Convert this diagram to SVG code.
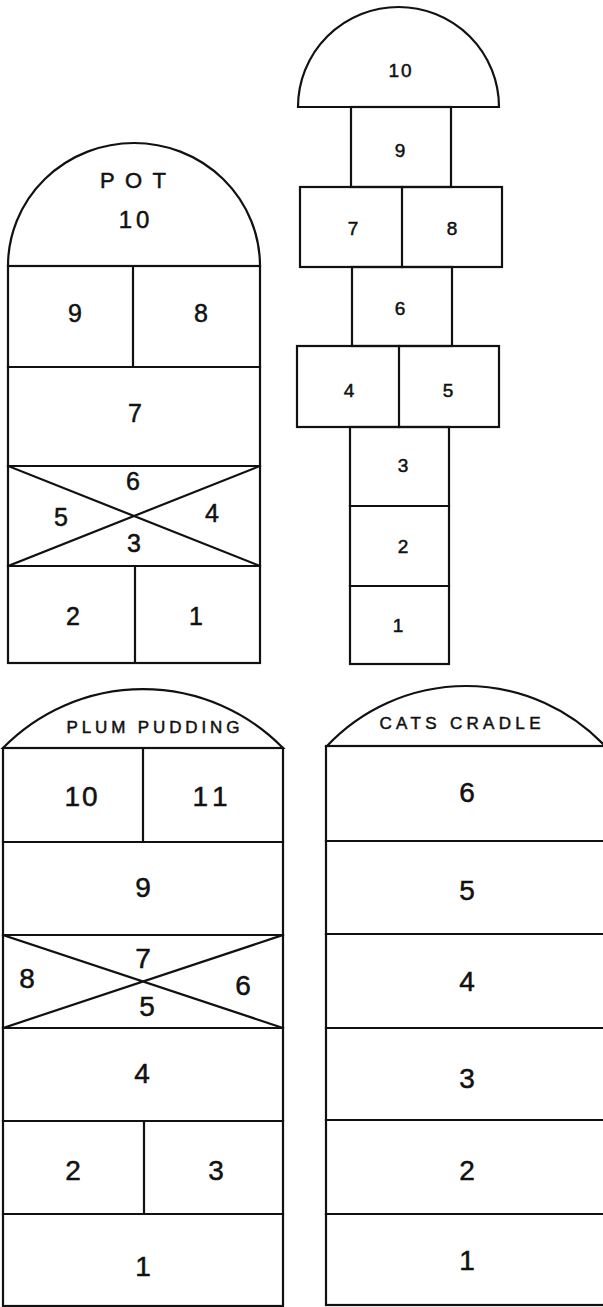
<svg xmlns="http://www.w3.org/2000/svg" width="603" height="1307" viewBox="0 0 603 1307">
<style>
.ln{fill:none;stroke:#111;stroke-width:2.2;stroke-linecap:square;stroke-linejoin:miter}
text{font-family:"Liberation Sans",Arial,sans-serif;fill:#111;stroke:#111;stroke-width:0.5;text-anchor:middle}
.p{font-size:25px}
.s{font-size:19px}
.b{font-size:28px}
.t{font-size:17px}
</style>
<rect x="0" y="0" width="603" height="1307" fill="#fff"/>
<g id="pot">
<path class="ln" d="M8 266 A126 123 0 0 1 260 266 Z"/>
<rect class="ln" x="8" y="266" width="252" height="397"/>
<path class="ln" d="M8 367 H260 M8 466 H260 M8 566 H260 M133 266 V367 M135 566 V663 M8 466 L260 566 M8 566 L260 466"/>
<text x="133" y="188" font-size="22" textLength="66" lengthAdjust="spacing">POT</text>
<text x="136" y="228" font-size="24" letter-spacing="4">10</text>
<text class="p" x="75" y="322">9</text>
<text class="p" x="201" y="322">8</text>
<text class="p" x="135" y="422">7</text>
<text class="p" x="133" y="490">6</text>
<text class="p" x="61" y="526">5</text>
<text class="p" x="212" y="522">4</text>
<text class="p" x="134" y="552">3</text>
<text class="p" x="73" y="625">2</text>
<text class="p" x="196" y="625">1</text>
</g>
<g id="ladder">
<path class="ln" d="M298 107 A100.5 100 0 0 1 499 107 Z"/>
<rect class="ln" x="351" y="107" width="100" height="80"/>
<rect class="ln" x="300" y="187" width="202" height="80"/>
<path class="ln" d="M402 187 V267"/>
<rect class="ln" x="352" y="267" width="100" height="79"/>
<rect class="ln" x="297" y="346" width="202" height="81"/>
<path class="ln" d="M399 346 V427"/>
<rect class="ln" x="350" y="427" width="99" height="237"/>
<path class="ln" d="M350 506 H449 M350 586 H449"/>
<text class="s" x="401" y="77" letter-spacing="2">10</text>
<text class="s" x="400" y="157">9</text>
<text class="s" x="353" y="235">7</text>
<text class="s" x="452" y="235">8</text>
<text class="s" x="400" y="315">6</text>
<text class="s" x="349" y="397">4</text>
<text class="s" x="448" y="397">5</text>
<text class="s" x="403" y="472">3</text>
<text class="s" x="403" y="553">2</text>
<text class="s" x="398" y="632">1</text>
</g>
<g id="plum-pudding">
<path class="ln" d="M3 748 A196 196 0 0 1 283 748 Z"/>
<rect class="ln" x="3" y="748" width="280" height="558"/>
<path class="ln" d="M3 842 H283 M3 935 H283 M3 1028 H283 M3 1121 H283 M3 1214 H283 M143 748 V842 M144 1121 V1214 M3 935 L283 1028 M3 1028 L283 935"/>
<text class="t" x="153" y="733" textLength="173" lengthAdjust="spacing">PLUM PUDDING</text>
<text class="b" x="82" y="806" letter-spacing="2">10</text>
<text class="b" x="213" y="806" letter-spacing="6">11</text>
<text class="b" x="143" y="897">9</text>
<text class="b" x="143" y="968">7</text>
<text class="b" x="27" y="988">8</text>
<text class="b" x="243" y="995">6</text>
<text class="b" x="147" y="1016">5</text>
<text class="b" x="142" y="1083">4</text>
<text class="b" x="73" y="1180">2</text>
<text class="b" x="216" y="1180">3</text>
<text class="b" x="143" y="1276">1</text>
</g>
<g id="cats-cradle">
<path class="ln" d="M327 746 A191 191 0 0 1 605 746 Z"/>
<rect class="ln" x="326" y="746" width="280" height="559"/>
<path class="ln" d="M326 841 H606 M326 934 H606 M326 1028 H606 M326 1120 H606 M326 1214 H606"/>
<text class="t" x="460" y="729" textLength="161" lengthAdjust="spacing">CATS CRADLE</text>
<text class="b" x="467" y="802">6</text>
<text class="b" x="467" y="900">5</text>
<text class="b" x="467" y="991">4</text>
<text class="b" x="467" y="1088">3</text>
<text class="b" x="467" y="1180">2</text>
<text class="b" x="467" y="1270">1</text>
</g>
</svg>
